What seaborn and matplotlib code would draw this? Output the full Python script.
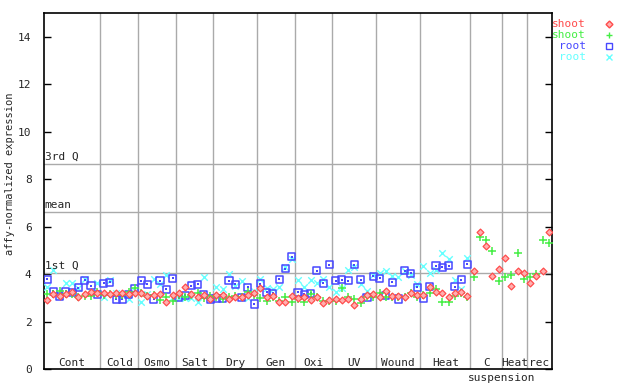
import pandas as pd
import matplotlib
matplotlib.use("Agg")
import matplotlib.pyplot as plt
import seaborn as sns
from matplotlib.lines import Line2D

# sample groups along the x axis
groups = ["Cont", "Cold", "Osmo", "Salt", "Dry", "Gen", "Oxi", "UV",
          "Wound", "Heat", "C", "Heat", "rec"]
group_sizes = [9, 6, 6, 6, 7, 6, 6, 7, 7, 8, 5, 4, 4]

# reference lines
first_q = 4.05
mean_val = 6.6
third_q = 8.65

# shoot probes (all 81 samples)
shoot_red = [2.90, 3.14, 3.09, 3.14, 3.26, 3.02, 3.14, 3.26, 3.22,
             3.22, 3.18, 3.22, 3.22, 3.15, 3.20,
             3.19, 3.08, 3.12, 3.16, 2.81, 3.12,
             3.19, 3.45, 3.16, 3.02, 3.12, 2.95,
             3.12, 3.10, 2.95, 3.05, 3.05, 3.12, 3.20,
             3.40, 3.05, 3.08, 2.84, 2.81, 3.08,
             2.98, 3.02, 2.91, 3.05, 2.77, 2.91,
             2.95, 2.91, 2.95, 2.70, 2.95, 3.12, 3.16,
             3.05, 3.30, 3.08, 3.08, 3.05, 3.19, 3.10,
             3.12, 3.47, 3.26, 3.19, 3.02, 3.19, 3.26, 3.08,
             4.14, 5.77, 5.20, 3.90, 4.21,
             4.67, 3.50, 4.14, 4.04,
             3.61, 3.90, 4.11, 5.77]
shoot_green = [3.14, 3.18, 3.28, 3.18, 3.18, 3.02, 3.09, 3.09, 3.26,
               3.12, 3.16, 3.12, 3.12, 3.24, 3.40,
               3.19, 3.08, 3.10, 2.91, 3.02, 2.87,
               3.12, 3.02, 3.12, 3.19, 2.98, 3.08,
               3.02, 2.95, 3.02, 3.08, 3.05, 3.26, 3.12,
               2.98, 2.88, 3.05, 2.88, 3.05, 2.81,
               2.94, 2.81, 3.14, 3.02, 2.87, 2.88,
               2.88, 3.40, 3.02, 2.95, 2.77, 3.05, 3.02,
               3.22, 3.02, 3.05, 3.02, 3.02, 3.19, 3.02,
               3.10, 3.19, 3.38, 2.84, 2.81, 3.08, 3.19, 3.02,
               3.87, 5.56, 5.44, 4.98, 3.71,
               3.87, 3.94, 4.88, 3.80,
               3.87, 4.01, 5.44, 5.30]

# root probes (first 68 samples only)
root_blue = [3.78, 3.28, 3.05, 3.28, 3.24, 3.43, 3.73, 3.50, 3.12,
             3.61, 3.66, 2.94, 2.94, 3.15, 3.40,
             3.71, 3.57, 2.95, 3.71, 3.36, 3.83,
             3.00, 3.11, 3.50, 3.57, 3.12, 2.95,
             2.98, 2.98, 3.71, 3.57, 3.02, 3.45, 2.74,
             3.59, 3.24, 3.19, 3.78, 4.22, 4.74,
             3.24, 3.14, 3.19, 4.14, 3.61, 4.39,
             3.71, 3.76, 3.71, 4.39, 3.76, 3.02, 3.90,
             3.83, 3.08, 3.66, 2.95, 4.14, 4.04, 3.45,
             2.98, 3.47, 4.35, 4.29, 4.35, 3.47, 3.76, 4.42]
root_cyan = [3.46, 4.18, 3.08, 3.63, 3.63, 3.43, 3.81, 3.24, 3.63,
             3.05, 3.76, 3.19, 3.10, 2.95, 3.30,
             2.84, 3.15, 3.78, 3.57, 3.97, 3.05,
             3.00, 2.98, 3.00, 2.84, 3.87, 3.05,
             3.45, 3.35, 4.00, 3.48, 3.71, 2.98, 3.30,
             3.78, 3.40, 3.35, 3.45, 4.29, 4.63,
             3.76, 3.45, 3.76, 3.61, 3.78, 3.45,
             3.26, 3.40, 4.18, 4.29, 3.60, 3.29, 3.97,
             4.04, 4.14, 3.90, 3.87, 4.15, 3.94, 3.59,
             4.35, 4.04, 4.18, 4.88, 4.64, 3.76, 3.38, 4.67]

RED, GREEN, BLUE, CYAN = "#ff4c4c", "#44ee44", "#4848ff", "#66ffff"
GRID = "#aaaaaa"


def series_frame(values):
    return pd.DataFrame({"pos": [i + 0.5 for i in range(len(values))],
                         "value": values})


sns.set_style("white")
plt.rcParams["font.family"] = ["DejaVu Sans Mono"]
plt.rcParams["font.size"] = 8

fig = plt.figure(figsize=(6.4, 3.84), dpi=100)
ax = fig.add_axes([44 / 640, 15 / 384, 508 / 640, 356 / 384])

n_total = sum(group_sizes)
ax.set_xlim(0, n_total)
ax.set_ylim(0, 15)

# group separators and labels
edge = 0
for name, size in zip(groups, group_sizes):
    if edge + size < n_total:
        ax.axvline(edge + size, color=GRID, lw=1, zorder=1)
    ax.text(edge + size / 2, 0.06, name, ha="center", va="bottom",
            fontsize=8, zorder=5)
    edge += size
c_idx = groups.index("C")
c_center = sum(group_sizes[:c_idx]) + group_sizes[c_idx] / 2
ax.text(c_center + 2.5, -0.36, "suspension", ha="center", va="center",
        fontsize=8, clip_on=False)

# quartile / mean lines
for val, lab in [(first_q, "1st Q"), (mean_val, "mean"), (third_q, "3rd Q")]:
    ax.axhline(val, color=GRID, lw=1, zorder=1)
    ax.text(0.1, val + 0.08, lab, ha="left", va="bottom", fontsize=8, zorder=5)

# points
sns.scatterplot(data=series_frame(root_cyan), x="pos", y="value", ax=ax,
                marker="x", color=CYAN, s=22, linewidth=1, zorder=3)
sns.scatterplot(data=series_frame(root_blue), x="pos", y="value", ax=ax,
                marker="s", facecolor="none", edgecolor=BLUE, s=26,
                linewidth=1.1, zorder=3)
sns.scatterplot(data=series_frame(root_blue), x="pos", y="value", ax=ax,
                marker="s", color=BLUE, s=1.5, linewidth=0, zorder=3)
sns.scatterplot(data=series_frame(shoot_green), x="pos", y="value", ax=ax,
                marker="+", color=GREEN, s=34, linewidth=1.1, zorder=4)
sns.scatterplot(data=series_frame(shoot_red), x="pos", y="value", ax=ax,
                marker="D", facecolor="#ffb0b0", edgecolor=RED, s=12,
                linewidth=0.9, zorder=4)

ax.set_xlabel("")
ax.set_ylabel("")
ax.set_xticks([])
ax.set_yticks(range(0, 15, 2))
ax.tick_params(axis="y", direction="in", length=5, width=1, pad=9,
               left=True, right=True, labelsize=8, color="black")
for sp in ax.spines.values():
    sp.set_visible(True)
    sp.set_color("black")
    sp.set_linewidth(1.2)

fig.text(10 / 640, 1 - 174 / 384, "affy-normalized expression",
         rotation=90, ha="center", va="center", fontsize=7.5)

# legend
legend_items = [("shoot", RED, "D"), ("shoot", GREEN, "+"),
                ("root", BLUE, "s"), ("root", CYAN, "x")]
for k, (lab, col, mk) in enumerate(legend_items):
    y = 1 - (24 + 11 * k) / 384
    fig.text(586 / 640, y, lab, color=col, ha="right", va="center", fontsize=8)
    if mk == "D":
        kw = dict(markerfacecolor="#ffb0b0", markeredgecolor=col, markersize=3.5)
    elif mk == "s":
        kw = dict(markerfacecolor="none", markeredgecolor=col, markersize=5)
    else:
        kw = dict(color=col, markersize=5)
    fig.add_artist(Line2D([609 / 640], [y], marker=mk, linestyle="none",
                          markeredgewidth=1, transform=fig.transFigure, **kw))

fig.savefig("out.png", dpi=100)
